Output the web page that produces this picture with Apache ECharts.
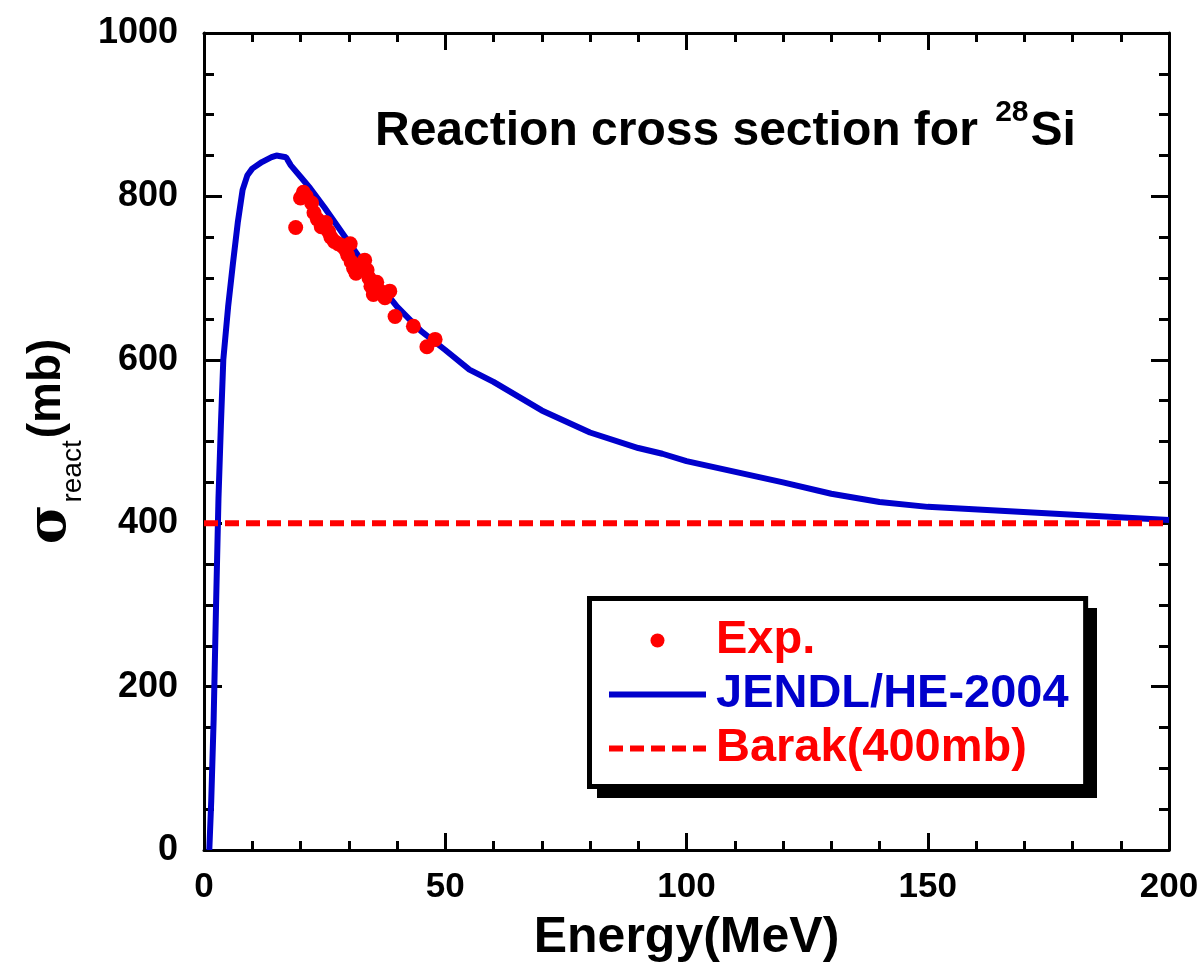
<!DOCTYPE html>
<html>
<head>
<meta charset="utf-8">
<script src="https://cdn.jsdelivr.net/npm/echarts@6/dist/echarts.min.js"></script>
<style>
  html, body { margin: 0; padding: 0; background: #fff; }
  #chart { width: 1197px; height: 974px; }
</style>
</head>
<body>
<div id="chart"></div>
<script>
// ---- data ----
const xTicks = [0, 50, 100, 150, 200];
const yTicks = [0, 200, 400, 600, 800, 1000];

const jendlE = [1.1, 1.5, 2, 2.5, 3, 3.5, 4, 5, 6, 7, 8, 9, 10, 12, 14, 15, 17, 18, 20, 22, 25, 30, 35, 40, 45, 50, 55, 60, 70, 80, 90, 95, 100, 120, 130, 140, 150, 200];
const jendlSigma = [0, 60, 160, 300, 430, 520, 600, 665, 718, 768, 808, 826, 834, 842, 848, 850, 848, 838, 824, 810, 786, 744, 702, 665, 635, 612, 588, 573, 538, 511, 492, 485, 476, 450, 436, 426, 420, 404];

const expE = [19.0, 20.0, 20.6, 21.2, 22.3, 22.8, 23.5, 24.3, 25.2, 25.8, 26.3, 27.0, 27.8, 28.5, 29.3, 29.8, 30.3, 30.5, 31.0, 31.5, 32.3, 33.3, 33.8, 34.2, 34.6, 35.1, 35.8, 36.5, 37.5, 38.5, 39.6, 43.4, 46.2, 47.9];
const expSigma = [762, 798, 805, 800, 792, 780, 772, 763, 768, 757, 750, 745, 742, 740, 735, 728, 742, 720, 712, 706, 716, 722, 710, 700, 690, 680, 695, 684, 676, 684, 653, 641, 616, 625];

const barakE = [0, 200];
const barakSigma = [400, 400];

const FONT = "'Liberation Sans', Arial, Helvetica, sans-serif";
const BLUE = '#0000cc';
const RED = '#ff0000';

const zip = (a, b) => a.map((v, i) => [v, b[i]]);

const chart = echarts.init(document.getElementById('chart'), null, { renderer: 'canvas' });

function xAxisCfg(pos, showLabel) {
  return {
    type: 'value', position: pos, min: xTicks[0], max: xTicks[xTicks.length - 1],
    interval: xTicks[1] - xTicks[0],
    axisLine: { show: true, onZero: false, lineStyle: { color: '#000', width: 3 } },
    axisTick: { show: true, inside: true, length: 17, lineStyle: { color: '#000', width: 3 } },
    minorTick: { show: true, splitNumber: 5, length: 9, lineStyle: { color: '#000', width: 3 } },
    splitLine: { show: false },
    axisLabel: { show: showLabel, color: '#000', fontSize: 35, fontWeight: 'bold', fontFamily: FONT, margin: 20,
      formatter: v => String(v) }
  };
}
function yAxisCfg(pos, showLabel) {
  return {
    type: 'value', position: pos, min: yTicks[0], max: yTicks[yTicks.length - 1],
    interval: yTicks[1] - yTicks[0],
    axisLine: { show: true, onZero: false, lineStyle: { color: '#000', width: 3 } },
    axisTick: { show: true, inside: true, length: 18, lineStyle: { color: '#000', width: 3 } },
    minorTick: { show: true, splitNumber: 4, length: 10, lineStyle: { color: '#000', width: 3 } },
    splitLine: { show: false },
    axisLabel: { show: showLabel, color: '#000', fontSize: 36, fontWeight: 'bold', fontFamily: FONT, margin: 26,
      formatter: v => String(v) }
  };
}

const xBottom = xAxisCfg('bottom', true);
xBottom.name = 'Energy(MeV)';
xBottom.nameLocation = 'middle';
xBottom.nameGap = 63;
xBottom.nameTextStyle = { color: '#000', fontSize: 50, fontWeight: 'bold', fontFamily: FONT, lineHeight: 50 };

const yLeft = yAxisCfg('left', true);
yLeft.name = '{s|σ}{r|react}{m|(mb)}';
yLeft.nameLocation = 'middle';
yLeft.nameRotate = 90;
yLeft.nameGap = 130;
yLeft.nameTextStyle = {
  rich: {
    s: { fontSize: 54, fontFamily: "'DejaVu Serif', 'Liberation Serif', serif", fontWeight: 'bold', color: '#000', lineHeight: 46, verticalAlign: 'top' },
    r: { fontSize: 28, fontFamily: FONT, color: '#000', lineHeight: 28, padding: [35, 2, 0, 2], verticalAlign: 'top' },
    m: { fontSize: 46, fontWeight: 'bold', fontFamily: FONT, color: '#000', lineHeight: 46, verticalAlign: 'top' }
  }
};

const option = {
  backgroundColor: '#fff',
  animation: false,
  title: {
    text: '{a|Reaction cross section for }{b|28}{a|Si}',
    left: 375, top: 98, padding: 0,
    textStyle: {
      rich: {
        a: { fontSize: 48, fontWeight: 'bold', fontFamily: FONT, color: '#000', lineHeight: 48, padding: [10, 0, 0, 0], verticalAlign: 'top' },
        b: { fontSize: 30, fontWeight: 'bold', fontFamily: FONT, color: '#000', lineHeight: 30, padding: [0, 2, 0, 4], verticalAlign: 'top' }
      }
    }
  },
  // drop shadow of the legend box (decoration only)
  graphic: [{
    type: 'rect', z: 3, silent: true,
    shape: { x: 597, y: 608, width: 500, height: 190 },
    style: { fill: '#000' }
  }],
  grid: { left: 204, top: 33, right: 28, bottom: 124, containLabel: false, outerBoundsMode: 'none' },
  xAxis: [xBottom, xAxisCfg('top', false)],
  yAxis: [yLeft, yAxisCfg('right', false)],
  legend: {
    orient: 'vertical',
    z: 5,
    left: 589.5, top: 598.5,
    padding: [18.5, 17, 14.5, 16.5],
    itemWidth: 97, itemHeight: 14, itemGap: 7,
    backgroundColor: '#fff',
    borderColor: '#000', borderWidth: 5,
    selectedMode: false,
    textStyle: { fontSize: 47, fontWeight: 'bold', fontFamily: FONT, lineHeight: 46, padding: [0, 0, 0, 5] },
    data: [
      { name: 'Exp.', textStyle: { color: RED } },
      { name: 'JENDL/HE-2004', textStyle: { color: BLUE }, itemStyle: { opacity: 0 }, lineStyle: { width: 6, color: BLUE } },
      { name: 'Barak(400mb)', textStyle: { color: RED }, itemStyle: { opacity: 0 }, lineStyle: { width: 6, color: RED, type: [14, 7] } }
    ]
  },
  series: [
    {
      name: 'JENDL/HE-2004', type: 'line', xAxisIndex: 0, yAxisIndex: 0,
      data: zip(jendlE, jendlSigma), showSymbol: false, symbol: 'none', clip: true,
      lineStyle: { color: BLUE, width: 6 }, itemStyle: { color: BLUE }, z: 2
    },
    {
      name: 'Barak(400mb)', type: 'line', xAxisIndex: 0, yAxisIndex: 0,
      data: zip(barakE, barakSigma), showSymbol: false, symbol: 'none',
      lineStyle: { color: RED, width: 6, type: [14, 7] }, itemStyle: { color: RED }, z: 3
    },
    {
      name: 'Exp.', type: 'scatter', xAxisIndex: 0, yAxisIndex: 0,
      data: zip(expE, expSigma), symbol: 'circle', symbolSize: 15,
      itemStyle: { color: RED, opacity: 1 }, z: 4
    }
  ]
};

chart.setOption(option);
</script>
</body>
</html>
